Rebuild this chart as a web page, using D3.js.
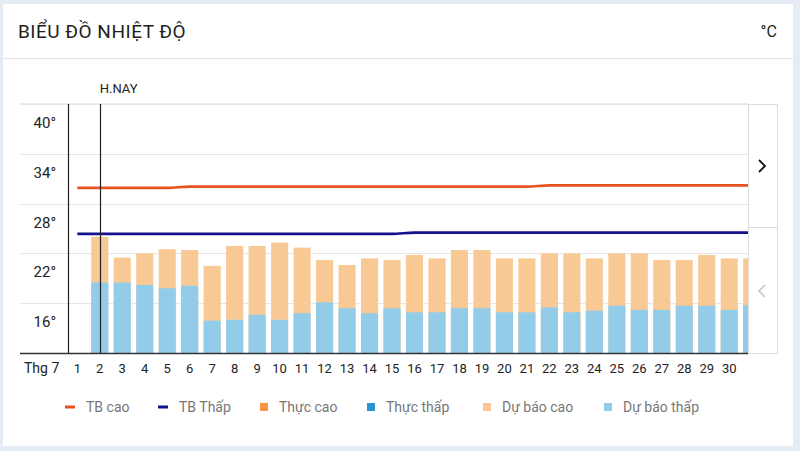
<!DOCTYPE html>
<html><head><meta charset="utf-8">
<script src="https://cdn.jsdelivr.net/npm/d3@7"></script>
<style>
html,body{margin:0;padding:0;background:#e5ecf4;}
svg{display:block;font-family:Roboto,"Noto Sans",sans-serif;}
</style></head>
<body><svg id="c" width="800" height="451"></svg>
<script>
const days = [1,2,3,4,5,6,7,8,9,10,11,12,13,14,15,16,17,18,19,20,21,22,23,24,25,26,27,28,29,30,31];
const forecastHigh = [null,24.0,21.5,22.0,22.5,22.4,20.5,22.9,22.9,23.3,22.7,21.2,20.6,21.4,21.2,21.8,21.4,22.4,22.4,21.4,21.4,22.0,22.0,21.4,22.0,22.0,21.2,21.2,21.8,21.4,21.4];
const forecastLow  = [null,18.5,18.5,18.2,17.8,18.1,13.9,14.0,14.6,14.0,14.8,16.1,15.4,14.8,15.4,14.9,14.9,15.4,15.4,14.9,14.9,15.5,14.9,15.1,15.7,15.2,15.2,15.7,15.7,15.2,15.8];
const actualHigh = days.map(()=>null);
const actualLow  = days.map(()=>null);
const avgHigh = [29.9,29.9,29.9,29.9,29.9,30.05,30.05,30.05,30.05,30.05,30.05,30.05,30.05,30.05,30.05,30.05,30.05,30.05,30.05,30.05,30.05,30.2,30.2,30.2,30.2,30.2,30.2,30.2,30.2,30.2,30.2];
const avgLow = [24.35,24.35,24.35,24.35,24.35,24.35,24.35,24.35,24.35,24.35,24.35,24.35,24.35,24.35,24.35,24.5,24.5,24.5,24.5,24.5,24.5,24.5,24.5,24.5,24.5,24.5,24.5,24.5,24.5,24.5,24.5];
const yTicks = [16,22,28,34,40];
const monthLabel = "Thg 7";
const todayDay = 2;
const title = "BIỂU ĐỒ NHIỆT ĐỘ";
const legendItems = [
  {label:"TB cao", type:"line", color:"#e8521f"},
  {label:"TB Thấp", type:"line", color:"#14128c"},
  {label:"Thực cao", type:"rect", color:"#f7963e"},
  {label:"Thực thấp", type:"rect", color:"#2b94d2"},
  {label:"Dự báo cao", type:"rect", color:"#fdc59a"},
  {label:"Dự báo thấp", type:"rect", color:"#90cdea"}
];

const svg = d3.select("#c");
svg.append("rect").attr("width",800).attr("height",451).attr("fill","#e5ecf4");
svg.append("rect").attr("x",3).attr("y",4).attr("width",790).attr("height",442).attr("fill","#fff");
svg.append("line").attr("x1",3).attr("x2",793).attr("y1",58.5).attr("y2",58.5).attr("stroke","#e3e3e3");
svg.append("text").attr("x",18).attr("y",38).attr("font-size",19).attr("letter-spacing",0.5).attr("fill","#222").text(title);
svg.append("text").attr("x",777).attr("y",37).attr("text-anchor","end").attr("font-size",16).attr("fill","#222").text("°C");

const pLeft=20, pRight=748, pTop=104, pBottom=353;
const x = d3.scaleBand().domain(days).range([66.06, 762.94]).paddingInner(0.24).paddingOuter(0.12);
const y = d3.scaleLinear().domain([10,40]).range([pBottom, pTop]);
const cx = d => x(d)+x.bandwidth()/2;

svg.append("g").selectAll("line").data(yTicks).join("line")
  .attr("x1",pLeft).attr("x2",pRight).attr("y1",d=>Math.round(y(d))+0.5).attr("y2",d=>Math.round(y(d))+0.5)
  .attr("stroke","#e6e6e6").attr("stroke-width",1.2);
svg.append("g").selectAll("text").data(yTicks).join("text")
  .attr("x",56).attr("y",d=>y(d)+24).attr("text-anchor","end").attr("font-size",15).attr("fill","#222")
  .text(d=>d+"°");

svg.append("defs").append("clipPath").attr("id","pc").append("rect")
  .attr("x",pLeft).attr("y",pTop-5).attr("width",pRight-pLeft).attr("height",pBottom-pTop+5);
const plot = svg.append("g").attr("clip-path","url(#pc)");

const bw = x.bandwidth();
const idx = days.map((d,i)=>i);
function bars(arr,color){
  plot.append("g").selectAll("rect").data(idx.filter(i=>arr[i]!=null)).join("rect")
    .attr("x",i=>x(days[i])).attr("width",bw).attr("y",i=>y(arr[i])).attr("height",i=>y(10)-y(arr[i]))
    .attr("fill",color);
}
bars(forecastHigh,"#f8c994");
bars(forecastLow,"#93cce9");
bars(actualHigh,"#f7963e");
bars(actualLow,"#2b94d2");

const line = d3.line().x(i=>cx(days[i])).curve(d3.curveMonotoneX);
plot.append("path").attr("d",line.y(i=>y(avgHigh[i]))(idx)).attr("fill","none").attr("stroke","#e8521f").attr("stroke-width",2.6);
plot.append("path").attr("d",line.y(i=>y(avgLow[i]))(idx)).attr("fill","none").attr("stroke","#14128c").attr("stroke-width",2.6);

svg.append("line").attr("x1",pLeft).attr("x2",pRight).attr("y1",pTop).attr("y2",pTop).attr("stroke","#e6e6e6").attr("stroke-width",1.5);
svg.append("line").attr("x1",68.5).attr("x2",68.5).attr("y1",pTop).attr("y2",pBottom).attr("stroke","#222").attr("stroke-width",1.2);
svg.append("line").attr("x1",Math.round(cx(todayDay))+0.5).attr("x2",Math.round(cx(todayDay))+0.5).attr("y1",pTop).attr("y2",pBottom).attr("stroke","#222").attr("stroke-width",1.2);
svg.append("text").attr("x",cx(todayDay)).attr("y",93).attr("font-size",13).attr("fill","#222").text("H.NAY");
svg.append("line").attr("x1",pLeft).attr("x2",pRight).attr("y1",pBottom+0.5).attr("y2",pBottom+0.5).attr("stroke","#333").attr("stroke-width",1.6);

svg.append("text").attr("x",24).attr("y",373).attr("font-size",14).attr("fill","#222").text(monthLabel);
svg.append("g").selectAll("text").data(days.filter(d=>cx(d)<745)).join("text")
  .attr("x",d=>cx(d)).attr("y",373).attr("text-anchor","middle").attr("font-size",13).attr("fill","#222").text(d=>d);

const nav = svg.append("g");
nav.append("rect").attr("x",748.5).attr("y",104.5).attr("width",29).attr("height",249).attr("fill","#fff").attr("stroke","#dcdcdc");
nav.append("line").attr("x1",748.5).attr("x2",777.5).attr("y1",227.5).attr("y2",227.5).attr("stroke","#dcdcdc");
nav.append("path").attr("d","M759,160 L765,166 L759,172").attr("fill","none").attr("stroke","#111").attr("stroke-width",1.8);
nav.append("path").attr("d","M765,285 L759,291 L765,297").attr("fill","none").attr("stroke","#c4c4c4").attr("stroke-width",1.5);

const lx = [65,158,260,367,483,604];
const lg = svg.append("g").selectAll("g").data(legendItems).join("g").attr("transform",(d,i)=>`translate(${lx[i]},407)`);
lg.each(function(d){
  const g=d3.select(this);
  if(d.type==="line") g.append("rect").attr("x",0).attr("y",-1.5).attr("width",10).attr("height",3).attr("fill",d.color);
  else g.append("rect").attr("x",0).attr("y",-4).attr("width",8).attr("height",8).attr("fill",d.color);
  g.append("text").attr("x",d.type==="line"?21:19).attr("y",5).attr("font-size",14).attr("fill","#777").text(d.label);
});
</script></body></html>
